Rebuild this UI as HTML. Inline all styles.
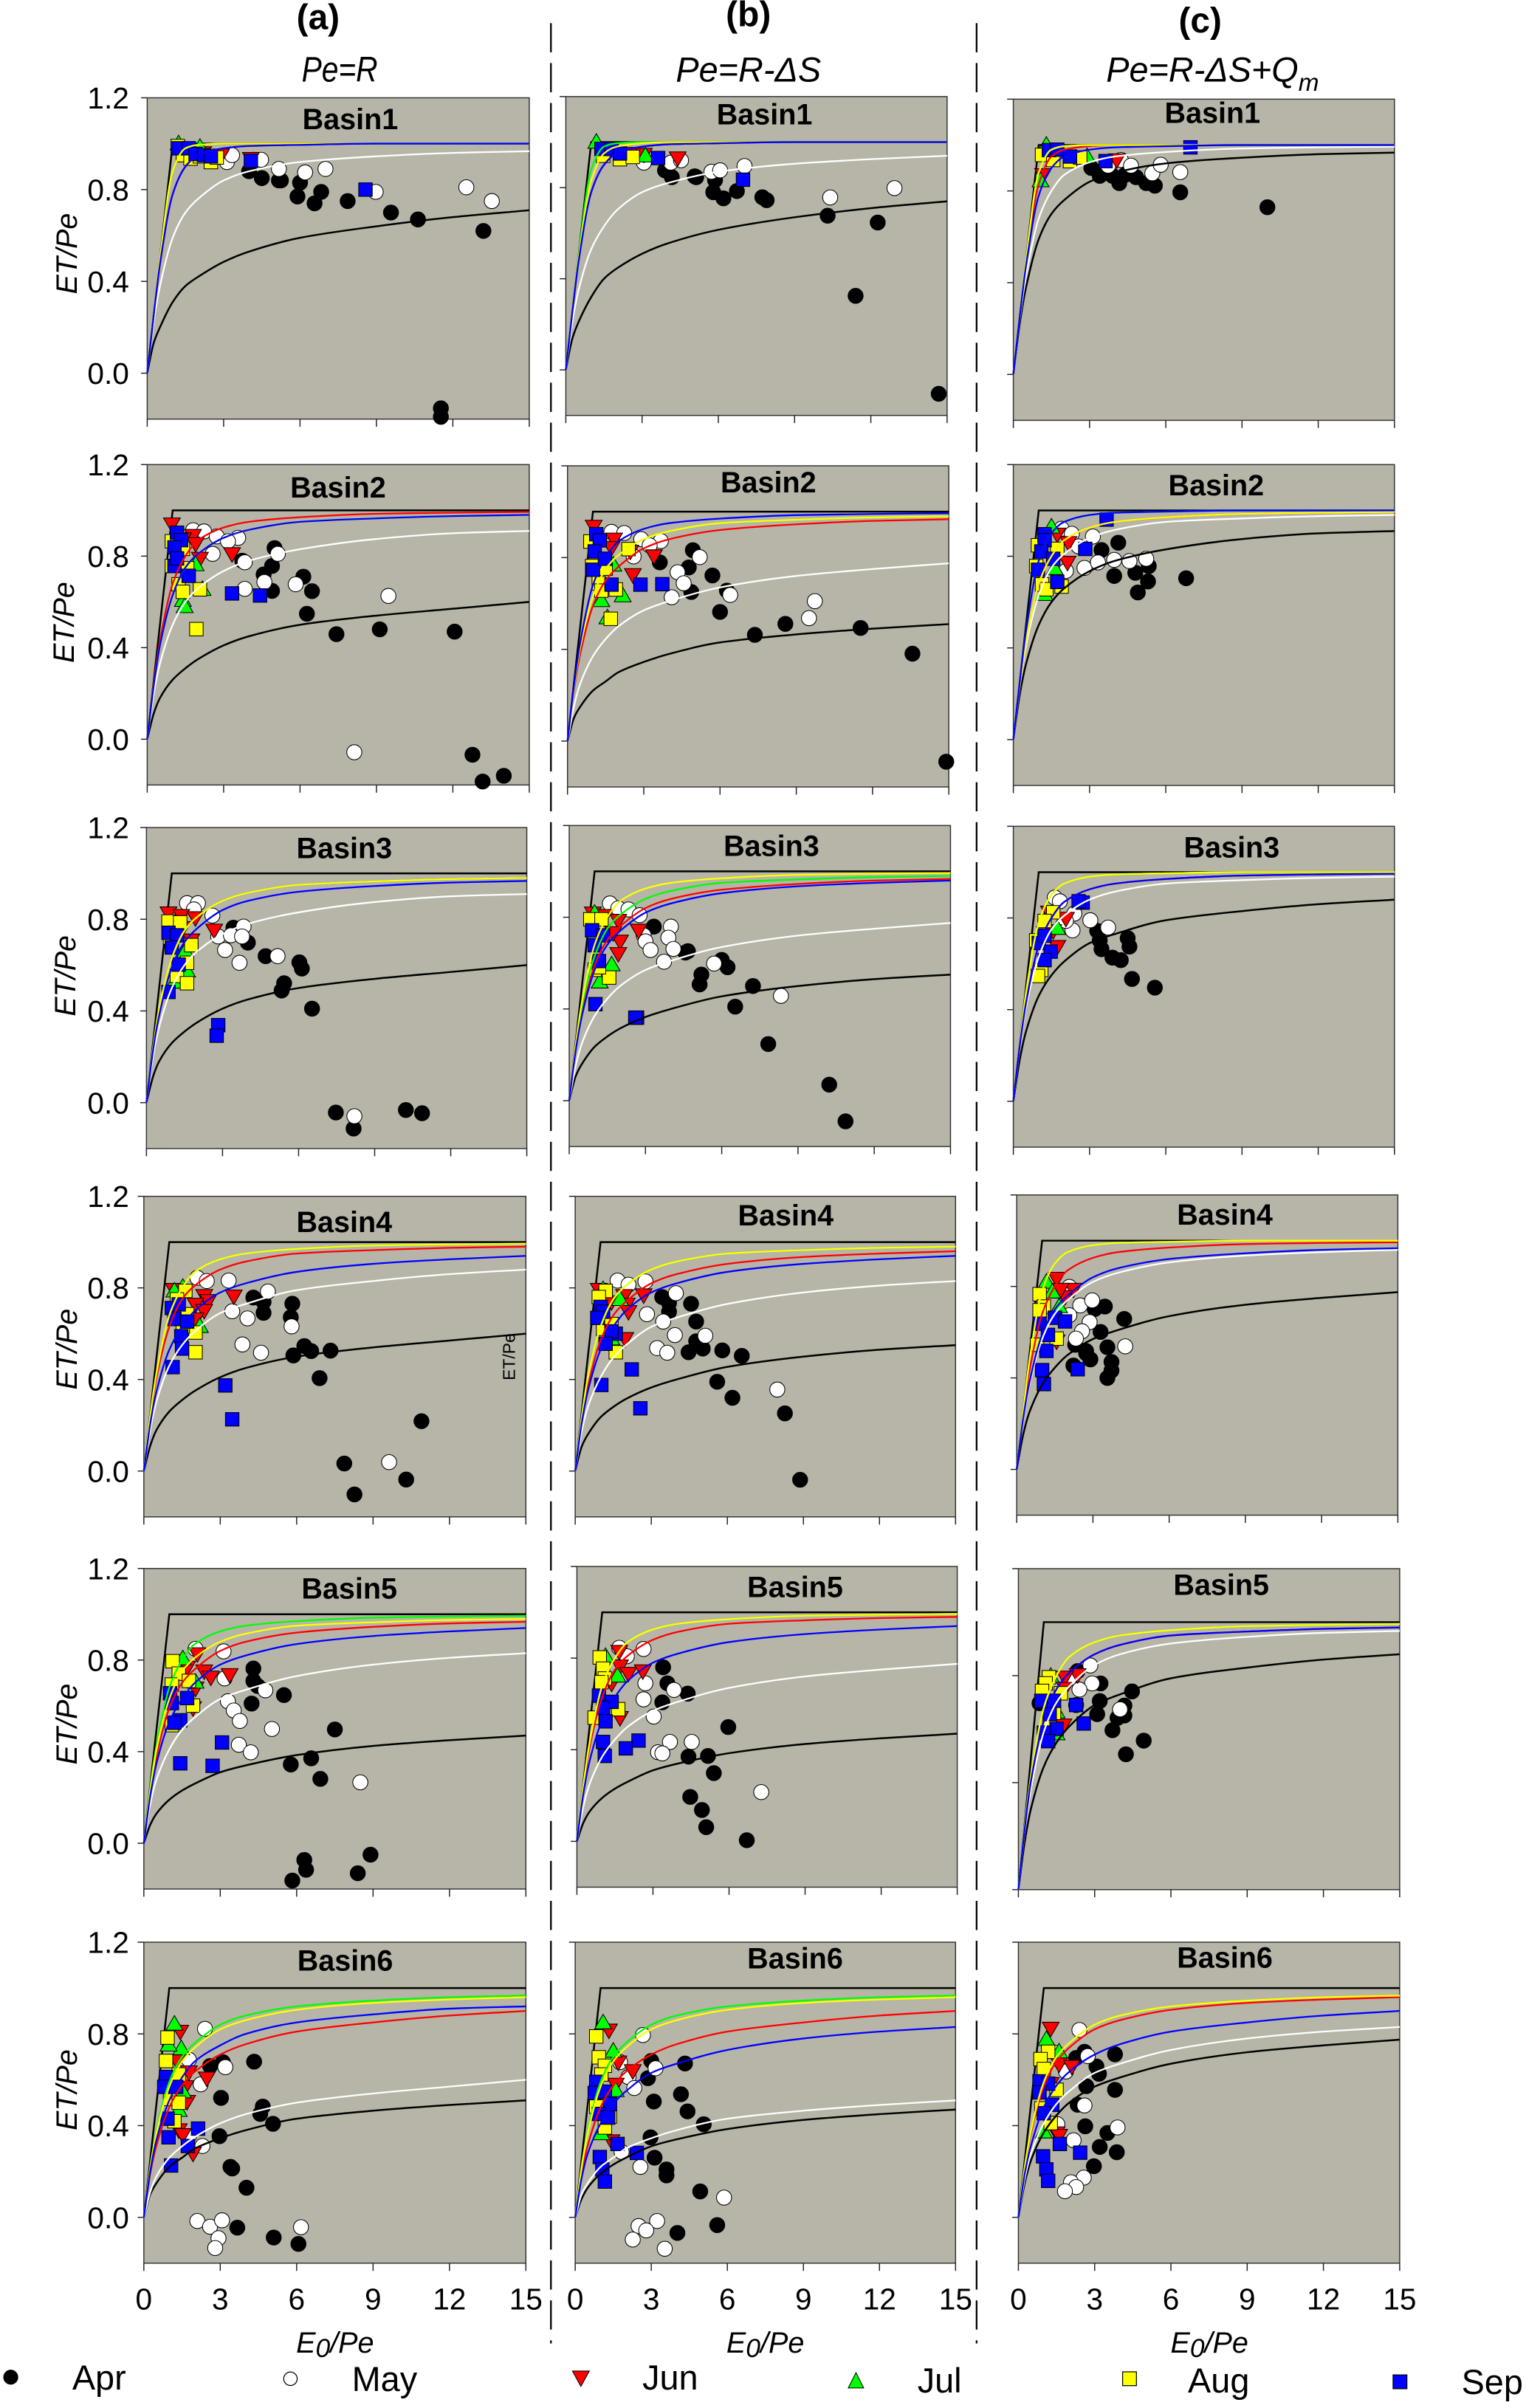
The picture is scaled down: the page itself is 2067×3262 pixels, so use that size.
<!DOCTYPE html>
<html>
<head>
<meta charset="utf-8">
<title>ET/Pe versus E0/Pe by basin and month</title>
<style>
html,body{margin:0;padding:0;background:#fff;}
svg{display:block;}
text{font-family:"Liberation Sans",sans-serif;fill:#000;}
</style>
</head>
<body>
<svg id="chart" xmlns="http://www.w3.org/2000/svg" width="2067" height="3262" viewBox="0 0 993 1567">
<rect x="0" y="0" width="993" height="1567" fill="#fff"/>
<text x="207" y="19" font-size="23" font-weight="bold" text-anchor="middle">(a)</text>
<text x="487" y="17" font-size="23" font-weight="bold" text-anchor="middle">(b)</text>
<text x="781" y="21" font-size="23" font-weight="bold" text-anchor="middle">(c)</text>
<text transform="translate(221,53) scale(0.85,1)" font-size="23" font-style="italic" text-anchor="middle">Pe=R</text>
<text x="487" y="53" font-size="22.5" font-style="italic" text-anchor="middle">Pe=R-ΔS</text>
<text x="789" y="53" font-size="22.5" font-style="italic" text-anchor="middle">Pe=R-ΔS+Q<tspan font-size="16" dy="6">m</tspan></text>
<line x1="358.5" y1="15" x2="358.5" y2="1525" stroke="#000" stroke-width="1.1" stroke-dasharray="19 7"/>
<line x1="635.5" y1="15" x2="635.5" y2="1525" stroke="#000" stroke-width="1.1" stroke-dasharray="19 7"/>
<g id="panels"></g>
<text transform="translate(335,883) rotate(-90)" font-size="11" text-anchor="middle" fill="#222">ET/Pe</text>
<text x="218" y="1531" font-size="19" font-style="italic" text-anchor="middle">E<tspan font-size="17" dy="3">0</tspan><tspan dy="-3">/Pe</tspan></text>
<text x="498" y="1531" font-size="19" font-style="italic" text-anchor="middle">E<tspan font-size="17" dy="3">0</tspan><tspan dy="-3">/Pe</tspan></text>
<text x="787" y="1531" font-size="19" font-style="italic" text-anchor="middle">E<tspan font-size="17" dy="3">0</tspan><tspan dy="-3">/Pe</tspan></text>
<g id="legend">
<circle cx="7" cy="1547" r="4.6" fill="#000" stroke="#000" stroke-width="0.5"/>
<text x="47" y="1555" font-size="22.5">Apr</text>
<circle cx="189" cy="1548" r="4.4" fill="#fff" stroke="#000" stroke-width="0.6"/>
<text x="229" y="1556" font-size="22.5">May</text>
<polygon points="372.5,1543 383.5,1543 378,1553" fill="#f00" stroke="#000" stroke-width="0.5"/>
<text x="418" y="1555" font-size="22.5">Jun</text>
<polygon points="552,1554 562,1554 557,1544" fill="#0f0" stroke="#000" stroke-width="0.5"/>
<text x="597" y="1557" font-size="22.5">Jul</text>
<rect x="730.5" y="1543.5" width="9" height="9" fill="#ff0" stroke="#000" stroke-width="0.6"/>
<text x="773" y="1557" font-size="22.5">Aug</text>
<rect x="906.5" y="1545.5" width="9" height="9" fill="#00f" stroke="#000" stroke-width="0.6"/>
<text x="951" y="1558" font-size="22.5">Sep</text>
</g>
</svg>
<script>
// ---------- chart data ----------
const months = ["apr","may","jun","jul","aug","sep"];
const basins = ["Basin1","Basin2","Basin3","Basin4","Basin5","Basin6"];
const xTicks = [0,3,6,9,12,15];
const yTicks = [0,0.4,0.8,1.2];
const yTickLabels = ["0.0","0.4","0.8","1.2"];

// E0/Pe sample positions shared by the fitted curves
const curveE0 = [0,0.25,0.5,1,1.5,2,3,4,6,9,12,15];
const curve47 = [0,.08,.13,.19,.23,.26,.31,.34,.385,.425,.45,.47];
const curve51 = [0,.10,.15,.22,.26,.30,.345,.38,.43,.465,.49,.51];
const curve55 = [0,.105,.16,.235,.28,.315,.365,.40,.455,.50,.53,.55];
const curve60 = [0,.11,.18,.26,.31,.35,.41,.45,.50,.54,.57,.60];
const curve74 = [0,.135,.21,.32,.40,.445,.51,.555,.615,.67,.71,.74];
const curve72 = [0,.13,.20,.31,.38,.42,.485,.53,.59,.64,.68,.71];
const curve77 = [0,.15,.25,.37,.445,.50,.57,.61,.67,.72,.75,.775];
const curve83 = [0,.17,.28,.41,.495,.55,.63,.67,.73,.78,.81,.83];
const curve88 = [0,.18,.305,.46,.55,.61,.69,.73,.79,.83,.86,.88];
const curve89 = [0,.19,.315,.48,.575,.635,.71,.755,.81,.85,.88,.90];
const curve91 = [0,.195,.33,.50,.60,.66,.735,.78,.83,.875,.90,.91];
const curve92 = [0,.20,.34,.51,.61,.68,.75,.80,.85,.885,.91,.92];
const curve94 = [0,.205,.35,.53,.63,.70,.78,.82,.87,.905,.925,.94];
const curve96 = [0,.215,.37,.57,.68,.74,.82,.86,.905,.935,.95,.96];
const curve97 = [0,.22,.38,.59,.70,.76,.84,.88,.92,.945,.96,.967];
const curve98 = [0,.23,.41,.63,.75,.81,.88,.915,.95,.965,.975,.98];
const curve99 = [0,.24,.43,.68,.80,.87,.925,.95,.97,.985,.99,.993];
const curve100 = [0,.248,.475,.78,.90,.95,.98,.99,.995,1,1,1];
const curve100c = [0,.25,.49,.83,.95,.98,.995,1,1,1,1,1];
const curve100b = [0,.25,.50,.88,.98,.995,1,1,1,1,1,1];

// upper-limit line
const limitE0 = [0,1,15];
const limitRatio = [0,1,1];

// monthly observations: [E0/Pe, ET/Pe]
const a1Apr=[[4,.88],[4.5,.85],[5.17,.84],[5.25,.84],[6,.83],[5.9,.77],[6.83,.79],[6.57,.74],[7.87,.75],[9.57,.70],[10.63,.67],[13.2,.62],[11.53,-.153],[11.53,-.19]];
const a1May=[[3.13,.92],[3.33,.95],[4.17,.93],[4.47,.93],[5.17,.89],[6.2,.875],[7,.89],[8.97,.79],[12.53,.81],[13.53,.75]];
const a1Jun=[[1.9,.97],[2.2,.96],[2.9,.95],[4.07,.935]];
const a1Jul=[[1.23,1],[2.07,.985]];
const a1Aug=[[1.2,.99],[1.4,.95],[1.7,.935],[2.07,.945],[2.5,.92],[2.73,.94]];
const a1Sep=[[1.23,.98],[1.63,.98],[1.9,.955],[2.23,.95],[2.5,.945],[4.07,.925],[8.57,.80]];

const b1Apr=[[3.9,.876],[4.17,.846],[5.07,.85],[5.13,.846],[5.87,.833],[5.8,.78],[6.2,.753],[6.73,.785],[7.73,.758],[7.9,.745],[10.3,.677],[12.27,.647],[11.4,.325],[14.67,-.105]];
const b1May=[[3.07,.91],[4.13,.91],[4.53,.92],[5.73,.87],[6.07,.876],[7.03,.895],[10.4,.757],[12.93,.798]];
const b1Jun=[[2.47,.95],[3.07,.946],[4.4,.93]];
const b1Jul=[[1.2,1],[3.13,.94]];
const b1Aug=[[1.47,.94],[2.13,.925],[2.63,.935]];
const b1Sep=[[1.4,.97],[1.8,.97],[2.13,.95],[3.63,.93],[6.97,.835]];

const c1Apr=[[3.07,.90],[3.4,.866],[3.9,.866],[4.17,.834],[4.4,.87],[4.83,.86],[5.23,.834],[5.57,.823],[6.57,.794],[10,.729]];
const c1May=[[3.73,.91],[4.23,.935],[4.63,.91],[5.47,.877],[5.8,.914],[6.57,.882]];
const c1Jun=[[1.17,.87],[4.07,.935]];
const c1Jul=[[1.07,.845],[1.3,1],[2.9,.95]];
const c1Aug=[[1.13,.957],[1.57,.935],[2.23,.93],[2.63,.946]];
const c1Sep=[[1.4,.978],[1.73,.98],[2.23,.95],[3.63,.93],[6.97,.99]];

const a2Apr=[[5,.835],[3.73,.78],[4.9,.757],[4.57,.72],[6.13,.71],[4.9,.648],[6.47,.647],[6.27,.548],[7.43,.459],[9.13,.48],[12.07,.47],[12.77,-.068],[14,-.16],[13.17,-.185]];
const a2May=[[1.8,.913],[2.23,.908],[2.73,.886],[3.57,.88],[3.17,.865],[2.57,.81],[3.83,.773],[5.13,.81],[4.6,.687],[3.83,.657],[5.83,.677],[9.47,.626],[8.13,-.057]];
const a2Jun=[[.97,.94],[1.8,.89],[1.9,.854],[3.33,.81],[2.07,.79],[1.4,.875]];
const a2Jul=[[1.4,.607],[1.47,.58],[1.9,.763],[2.17,.655]];
const a2Aug=[[.97,.865],[.97,.757],[1.4,.832],[1.57,.747],[1.23,.677],[1.4,.644],[2.07,.655],[1.93,.481]];
const a2Sep=[[1.17,.902],[1.33,.87],[1.07,.838],[1.07,.757],[1.63,.714],[3.33,.637],[4.43,.628],[1.17,.79]];

const b2Apr=[[4.93,.832],[3.63,.779],[4.77,.757],[5.7,.722],[6.27,.656],[4.87,.65],[6,.563],[7.37,.463],[8.57,.511],[11.53,.493],[13.57,.381],[14.9,-.09]];
const b2May=[[1.73,.912],[2.23,.907],[2.9,.88],[3.67,.872],[3.23,.853],[2.6,.805],[5.2,.802],[4.33,.736],[4.57,.688],[4.1,.627],[6.4,.637],[9.73,.61],[9.5,.536]];
const b2Jun=[[1.03,.936],[1.83,.88],[1.73,.843],[2.47,.827],[3.4,.807],[2.57,.725]];
const b2Jul=[[1.33,.613],[2.17,.634],[1.8,.768],[1.57,.538]];
const b2Aug=[[.9,.87],[.97,.763],[1.5,.752],[1.23,.688],[1.33,.656],[1.9,.661],[1.7,.533],[2.4,.837]];
const b2Sep=[[1.13,.902],[1.27,.875],[1.07,.827],[1,.747],[1.47,.795],[1.73,.682],[2.87,.682],[3.73,.684]];

const c2Apr=[[4.13,.859],[3.47,.827],[4.8,.728],[5.33,.757],[3.97,.714],[5.3,.69],[6.8,.704],[4.9,.642]];
const c2May=[[1.9,.92],[2.3,.898],[3.13,.886],[2.8,.749],[3.33,.773],[3.97,.784],[4.57,.779],[5.23,.789],[2.07,.736],[2.57,.843]];
const c2Jun=[[2.17,.859],[2.13,.773],[1.73,.896]];
const c2Jul=[[1.23,.634],[1.5,.928],[1.63,.747]];
const c2Aug=[[.97,.848],[1.13,.677],[1.3,.656],[1.9,.668],[1.73,.832],[.9,.757]];
const c2Sep=[[1.23,.896],[1.23,.87],[1.1,.821],[.97,.741],[1.57,.789],[1.73,.688],[2.83,.832],[3.67,.96]];

const a3Apr=[[3.43,.763],[4,.698],[4.7,.639],[6.03,.612],[6.13,.585],[5.43,.521],[5.33,.489],[6.53,.41],[7.47,-.043],[8.17,-.113],[10.23,-.032],[10.87,-.046]];
const a3May=[[1.6,.87],[2.03,.87],[1.87,.843],[2.6,.816],[3.83,.768],[2.83,.725],[3.33,.73],[3.77,.725],[3.1,.666],[5.17,.639],[3.67,.61],[8.2,-.059]];
const a3Jun=[[.87,.827],[1.37,.816],[1.93,.806],[2.67,.752],[1.77,.709],[1.43,.763],[1.1,.784]];
const a3Jul=[[1.6,.575],[1.1,.526],[1.53,.66]];
const a3Aug=[[.87,.79],[1.33,.786],[.93,.72],[1.6,.61],[1.2,.553],[1.6,.521],[1.77,.687]];
const a3Sep=[[.87,.741],[1.2,.73],[1,.677],[1.27,.602],[.87,.483],[2.83,.338],[2.77,.292]];

const b3Apr=[[3.33,.759],[4.67,.652],[4.57,.646],[6.23,.582],[6,.614],[5.2,.55],[5.13,.507],[7.23,.5],[6.53,.41],[7.83,.247],[10.23,.07],[10.87,-.09]];
const b3May=[[1.6,.86],[1.93,.839],[2.33,.834],[2.77,.809],[4,.759],[2.93,.721],[3.9,.711],[3,.695],[4.1,.662],[3.2,.657],[3.73,.606],[5.7,.598],[8.33,.457]];
const b3Jun=[[.93,.818],[1.4,.807],[1.93,.786],[2.73,.743],[2,.695],[1.93,.641],[1.73,.732]];
const b3Jul=[[1.67,.593],[1.2,.518],[1,.818]];
const b3Aug=[[.83,.791],[1.27,.791],[1,.571],[1.57,.537],[1.17,.582]];
const b3Sep=[[.9,.743],[1.33,.721],[1,.678],[1.17,.609],[1.03,.421],[2.67,.362],[2.6,.362]];

const c3Apr=[[3.3,.744],[3.4,.702],[3.47,.664],[4.5,.712],[4.57,.675],[3.9,.627],[4.23,.616],[4.67,.534],[5.57,.496]];
const c3May=[[1.63,.889],[1.83,.873],[2.4,.819],[3.03,.79],[2.33,.746],[3.73,.758],[2.07,.787]];
const c3Jun=[[1.4,.825],[2.07,.798],[1.73,.675],[1.57,.744]];
const c3Jul=[[1.23,.787],[1.73,.755]];
const c3Aug=[[1.57,.825],[1.23,.787],[.9,.702],[1.1,.573],[.97,.547]];
const c3Sep=[[2.73,.867],[1,.691],[1.23,.723],[1.47,.653],[1.23,.616],[2.57,.873]];

const a4Apr=[[4.3,.758],[4.7,.739],[4.7,.691],[5.83,.731],[5.77,.672],[6.3,.546],[6.57,.524],[7.33,.526],[5.87,.505],[6.9,.406],[10.9,.218],[7.87,.033],[8.27,-.102],[10.3,-.037]];
const a4May=[[2.1,.844],[2.47,.83],[3.33,.832],[4.87,.784],[3.47,.698],[4.07,.667],[5.8,.632],[3.87,.553],[4.6,.517],[9.63,.039]];
const a4Jun=[[1.17,.793],[2.37,.766],[2.53,.744],[3.53,.764],[2.03,.728],[2.37,.701],[2.03,.664]];
const a4Jul=[[1.53,.803],[2.2,.632],[1.2,.787]];
const a4Aug=[[1.63,.787],[1.3,.75],[2.03,.605],[2.03,.519],[1.53,.632],[1.7,.685]];
const a4Sep=[[1.1,.712],[1.37,.728],[1.2,.664],[1.7,.653],[1.47,.589],[1.5,.535],[1.13,.454],[3.2,.374],[3.47,.226]];

const b4Apr=[[3.43,.76],[3.7,.734],[3.7,.696],[4.57,.731],[4.77,.653],[4.47,.519],[4.77,.567],[5.03,.535],[5.8,.527],[6.57,.503],[5.6,.39],[6.2,.32],[8.27,.252],[8.87,-.038]];
const b4May=[[1.67,.832],[2.1,.814],[2.77,.828],[3.97,.777],[2.83,.685],[3.47,.653],[3.93,.594],[5.13,.591],[3.23,.537],[3.63,.517],[7.97,.356]];
const b4Jun=[[.93,.793],[1.93,.766],[2.03,.728],[2.7,.769],[2.1,.696],[1.97,.578],[1.43,.739]];
const b4Jul=[[1.43,.578],[1.77,.75],[1.1,.793]];
const b4Aug=[[1.2,.787],[.93,.76],[1.1,.621],[1.6,.519],[1.43,.642]];
const b4Sep=[[1,.717],[1.1,.696],[.87,.669],[1.6,.6],[1.43,.61],[1.2,.556],[2.23,.444],[1.03,.376],[2.57,.274]];

const c4Apr=[[3.07,.701],[3.47,.712],[4.23,.658],[3.3,.601],[2.3,.545],[2.73,.518],[3.57,.534],[2.9,.481],[3.73,.47],[2.23,.454],[3.73,.432],[3.57,.4],[2.73,.508]];
const c4May=[[2.07,.798],[2.5,.717],[2.97,.739],[2.07,.674],[2.87,.644],[2.57,.604],[2.33,.572],[4.27,.538]];
const c4Jun=[[1.57,.835],[2.23,.787],[1.9,.755],[1.73,.787],[1.57,.561]];
const c4Jul=[[1.17,.819],[1.4,.776],[1.67,.712]];
const c4Aug=[[.9,.766],[1.07,.712],[.9,.696],[1.57,.572],[.8,.545]];
const c4Sep=[[1.5,.663],[1.9,.647],[.9,.637],[1.23,.588],[1.17,.518],[1,.434],[2.4,.438],[1.07,.373]];

const a5Apr=[[4.3,.763],[4.3,.709],[4.47,.687],[5.5,.647],[4.23,.61],[7.5,.497],[6.57,.371],[5.77,.344],[6.93,.281],[6.3,-.073],[6.37,-.116],[8.9,-.05],[8.4,-.131],[5.83,-.163]];
const a5May=[[2.03,.849],[3.13,.838],[3.17,.72],[4.77,.668],[3.3,.62],[3.53,.58],[3.77,.534],[5.03,.499],[3.73,.43],[4.2,.397],[8.5,.266]];
const a5Jun=[[2.1,.827],[2.37,.752],[2.63,.725],[3.37,.736],[1.7,.768],[2.03,.677],[1.93,.591]];
const a5Jul=[[1.53,.806],[2.03,.704],[1.37,.741]];
const a5Aug=[[1.13,.795],[1.37,.741],[1.1,.693],[1.77,.709],[1.93,.601],[1.1,.516]];
const a5Sep=[[1.03,.655],[1.7,.634],[1.1,.612],[1.43,.537],[1.2,.526],[3.07,.44],[1.43,.349],[2.7,.338]];

const b5Apr=[[3.4,.76],[3.57,.69],[4.37,.645],[3.37,.607],[5.97,.499],[4.4,.37],[5.17,.373],[5.4,.298],[4.47,.194],[4.93,.137],[5.1,.062],[6.7,.005]];
const b5May=[[1.67,.845],[2.63,.84],[1.97,.808],[2.7,.69],[3.83,.661],[2.63,.62],[3.03,.545],[3.67,.434],[4.53,.434],[3.2,.389],[3.37,.384],[7.27,.215]];
const b5Jun=[[1.67,.829],[1.7,.765],[2.03,.733],[2.6,.744],[1.7,.54],[1.37,.69]];
const b5Jul=[[1.13,.808],[1.6,.722]];
const b5Aug=[[.9,.803],[1.03,.754],[1.1,.711],[.97,.695],[1.63,.577],[.7,.54]];
const b5Sep=[[.87,.636],[1.37,.609],[1.03,.583],[1.13,.524],[1.03,.434],[2.43,.44],[1.93,.406],[1.1,.373]];

const c5Apr=[[3.23,.771],[4.47,.741],[3.2,.705],[3.1,.656],[4.17,.688],[4.17,.651],[3.9,.642],[3.7,.596],[4.93,.557],[4.23,.506],[2.33,.817],[.83,.697]];
const c5May=[[2.83,.838],[2.9,.771],[2.4,.748],[2.27,.69],[4,.674],[2,.789]];
const c5Jun=[[2.33,.803],[1.83,.794],[1.83,.752],[1.77,.615]];
const c5Jul=[[1.27,.798],[1.5,.665],[1.5,.583]];
const c5Aug=[[1.2,.794],[1.07,.771],[.93,.743],[1.67,.734],[1.4,.661],[1.23,.606]];
const c5Sep=[[.9,.706],[1.4,.706],[2.27,.69],[1.23,.656],[2.57,.621],[1.5,.601],[1,.587],[1.17,.555]];

const a6Apr=[[2.6,.66],[3.1,.677],[4.33,.679],[3.03,.521],[4.67,.483],[4.57,.451],[5.07,.408],[2.97,.354],[3.4,.22],[3.47,.213],[4.03,.129],[3.67,-.045],[5.1,-.088],[6.07,-.116]];
const a6May=[[2.4,.822],[1.77,.687],[3.2,.655],[2.23,.58],[1.77,.354],[2.3,.311],[2.1,-.016],[2.6,-.041],[3.07,-.013],[2.93,-.091],[2.8,-.134],[6.17,-.043]];
const a6Jun=[[1.43,.811],[1.3,.682],[1.77,.634],[2.47,.607],[1.63,.569],[1.7,.505],[1.37,.381],[1.53,.36],[1.93,.279]];
const a6Jul=[[1.2,.843],[1.47,.736],[.97,.752],[1.53,.548],[1.37,.467]];
const a6Aug=[[.93,.784],[.87,.682],[1.37,.623],[1.03,.516],[1.37,.5],[1.2,.419]];
const a6Sep=[[.87,.612],[.8,.569],[1.27,.569],[.93,.43],[.97,.349],[2.13,.387],[1.73,.311],[1.07,.226]];

const b6Apr=[[3,.682],[4.33,.671],[2.87,.607],[4.17,.537],[3.1,.505],[4.43,.462],[5.07,.406],[2.97,.349],[3.13,.26],[3.6,.209],[3.6,.183],[4.93,.113],[4.03,-.068],[5.6,-.034]];
const b6May=[[2.67,.795],[1.77,.677],[3.17,.65],[2.1,.612],[2.33,.564],[1.83,.285],[2.57,.22],[5.87,.086],[3.23,-.016],[2.5,-.038],[2.8,-.057],[2.27,-.097],[3.53,-.137]];
const b6Jun=[[1.33,.816],[2.27,.639],[1.7,.677],[1.43,.526],[1.43,.333],[1.6,.58]];
const b6Jul=[[1.1,.849],[1.5,.725],[1.6,.553],[1.03,.365]];
const b6Aug=[[.83,.789],[.93,.698],[1.17,.661],[1.03,.623],[.83,.483],[1.37,.44],[1.17,.392]];
const b6Sep=[[.83,.591],[.77,.542],[1.17,.548],[1.37,.494],[.93,.451],[1.3,.435],[1.67,.32],[.97,.263],[2.43,.281],[1.07,.209],[1.17,.156]];

const c6Apr=[[2.6,.722],[2.27,.695],[3.8,.711],[3.07,.658],[3.17,.626],[2.67,.572],[3.8,.556],[2.33,.491],[2.63,.397],[3.5,.368],[3.2,.307],[3.87,.284],[2.97,.223]];
const c6May=[[2.4,.817],[1.5,.717],[2.73,.703],[1.87,.636],[2.6,.488],[3.9,.392],[1.53,.406],[2.17,.336],[2.57,.173],[2.07,.153],[2.27,.132],[1.83,.114]];
const c6Jun=[[1.27,.824],[1.6,.668],[2.1,.658],[1.27,.583],[1.5,.368],[1.6,.357]];
const c6Jul=[[1.1,.776],[1.6,.722],[1,.373]];
const c6Aug=[[1.17,.722],[.87,.69],[1,.647],[1.5,.556],[.9,.475],[1.27,.411]];
const c6Sep=[[.83,.593],[1.17,.583],[.83,.545],[1.33,.491],[1,.454],[1.63,.32],[2.43,.282],[.97,.266],[1.1,.209],[1.17,.159]];

// ---------- series look-up per panel (apr, may, jun, jul, aug, sep) ----------
const panelPoints = {
  a1:[a1Apr,a1May,a1Jun,a1Jul,a1Aug,a1Sep], b1:[b1Apr,b1May,b1Jun,b1Jul,b1Aug,b1Sep], c1:[c1Apr,c1May,c1Jun,c1Jul,c1Aug,c1Sep],
  a2:[a2Apr,a2May,a2Jun,a2Jul,a2Aug,a2Sep], b2:[b2Apr,b2May,b2Jun,b2Jul,b2Aug,b2Sep], c2:[c2Apr,c2May,c2Jun,c2Jul,c2Aug,c2Sep],
  a3:[a3Apr,a3May,a3Jun,a3Jul,a3Aug,a3Sep], b3:[b3Apr,b3May,b3Jun,b3Jul,b3Aug,b3Sep], c3:[c3Apr,c3May,c3Jun,c3Jul,c3Aug,c3Sep],
  a4:[a4Apr,a4May,a4Jun,a4Jul,a4Aug,a4Sep], b4:[b4Apr,b4May,b4Jun,b4Jul,b4Aug,b4Sep], c4:[c4Apr,c4May,c4Jun,c4Jul,c4Aug,c4Sep],
  a5:[a5Apr,a5May,a5Jun,a5Jul,a5Aug,a5Sep], b5:[b5Apr,b5May,b5Jun,b5Jul,b5Aug,b5Sep], c5:[c5Apr,c5May,c5Jun,c5Jul,c5Aug,c5Sep],
  a6:[a6Apr,a6May,a6Jun,a6Jul,a6Aug,a6Sep], b6:[b6Apr,b6May,b6Jun,b6Jul,b6Aug,b6Sep], c6:[c6Apr,c6May,c6Jun,c6Jul,c6Aug,c6Sep]
};
const panelCurves = {
  a1:[curve72,curve97,curve100,curve100b,curve100b,curve100], b1:[curve74,curve94,curve100,curve100b,curve100c,curve100], c1:[curve97,curve99,curve100c,curve100b,curve100b,curve100],
  a2:[curve60,curve91,curve99,curve98,curve98,curve98], b2:[curve51,curve77,curve97,curve98,curve98,curve99], c2:[curve91,curve98,curve99,curve100,curve99,curve100],
  a3:[curve60,curve91,curve98,curve98,curve98,curve97], b3:[curve55,curve77,curve97,curve98,curve99,curve96], c3:[curve88,curve98,curve99,curve100,curve100,curve99],
  a4:[curve60,curve88,curve98,curve99,curve99,curve94], b4:[curve55,curve83,curve96,curve98,curve98,curve94], c4:[curve77,curve96,curve99,curve100,curve100,curve97],
  a5:[curve47,curve83,curve97,curve99,curve98,curve94], b5:[curve47,curve77,curve98,curve99,curve99,curve94], c5:[curve88,curve97,curve98,curve99,curve99,curve98],
  a6:[curve51,curve60,curve89,curve97,curve96,curve92], b6:[curve47,curve51,curve89,curve97,curve96,curve83], c6:[curve77,curve83,curve96,curve97,curve97,curve89]
};

// ---------- layout & style (not data) ----------
const layout = [
 {id:"a1",b:0,l:95.8,r:344.4,t:63.6,bt:272.7,tx:227.9,ty:77.3,ymin:-.2},
 {id:"b1",b:0,l:368.2,r:616.3,t:62.8,bt:270.3,tx:497.5,ty:74.1,ymin:-.2},
 {id:"c1",b:0,l:659.4,r:907.4,t:64.5,bt:273.5,tx:789,ty:73.2,ymin:-.2},
 {id:"a2",b:1,l:95.8,r:344.4,t:302.3,bt:510.8,tx:220,ty:317,ymin:-.2},
 {id:"b2",b:1,l:369.3,r:617.4,t:303.1,bt:512.1,tx:500,ty:313.5,ymin:-.2},
 {id:"c2",b:1,l:659.4,r:907.4,t:302.3,bt:511.1,tx:791.4,ty:315.5,ymin:-.2},
 {id:"a3",b:2,l:95.3,r:342.8,t:538.5,bt:747.4,tx:224,ty:551.6,ymin:-.2},
 {id:"b3",b:2,l:370.4,r:618.5,t:537.2,bt:746.1,tx:502,ty:550.3,ymin:-.2},
 {id:"c3",b:2,l:659.4,r:907.4,t:537.7,bt:746.5,tx:801.5,ty:551.1,ymin:-.2},
 {id:"a4",b:3,l:93.6,r:342.2,t:778.5,bt:987.1,tx:224,ty:795,ymin:-.2},
 {id:"b4",b:3,l:374.3,r:621.8,t:778.5,bt:987.1,tx:511.3,ty:790.7,ymin:-.2},
 {id:"c4",b:3,l:661.6,r:909.6,t:777.6,bt:986,tx:797,ty:790.2,ymin:-.2},
 {id:"a5",b:4,l:93.6,r:342.2,t:1020.7,bt:1229.3,tx:227.3,ty:1033.6,ymin:-.2},
 {id:"b5",b:4,l:375.4,r:622.9,t:1019.4,bt:1228.1,tx:517.4,ty:1032.5,ymin:-.2},
 {id:"c5",b:4,l:662.7,r:910.8,t:1020.8,bt:1229.7,tx:794.7,ty:1031.2,ymin:0},
 {id:"a6",b:5,l:93.6,r:342.2,t:1263.9,bt:1472.8,tx:224.6,ty:1275.7,ymin:-.2},
 {id:"b6",b:5,l:374.3,r:621.8,t:1263.9,bt:1472.8,tx:517.4,ty:1274.1,ymin:-.2},
 {id:"c6",b:5,l:662.7,r:910.8,t:1263.9,bt:1472.8,tx:797,ty:1273.8,ymin:-.2}
];
const yTitleSpots = {a1:[44,165],a2:[42,405],a3:[43,635],a4:[44,878],a5:[44,1122],a6:[44,1360]};
const curveColors = ["#000","#fff","#f00","#0f0","#ff0","#00f"];
const SVGNS = "http://www.w3.org/2000/svg";
const root = document.getElementById("panels");

function make(tag, parent){
  const el = document.createElementNS(SVGNS, tag);
  parent.appendChild(el);
  return el;
}
function smoothPath(px, py){
  const n = px.length, d = [], m = [];
  for (let i = 0; i < n-1; i++) d.push((py[i+1]-py[i])/(px[i+1]-px[i]));
  m.push(d[0]);
  for (let i = 1; i < n-1; i++) m.push(d[i-1]*d[i] <= 0 ? 0 : 2*d[i-1]*d[i]/(d[i-1]+d[i]));
  m.push(d[n-2]);
  let s = "M" + px[0].toFixed(2) + "," + py[0].toFixed(2);
  for (let i = 0; i < n-1; i++) {
    const h = (px[i+1]-px[i])/3;
    s += "C" + (px[i]+h).toFixed(2) + "," + (py[i]+m[i]*h).toFixed(2) + " " + (px[i+1]-h).toFixed(2) + "," + (py[i+1]-m[i+1]*h).toFixed(2) + " " + px[i+1].toFixed(2) + "," + py[i+1].toFixed(2);
  }
  return s;
}

layout.forEach(function(p){
  const xScale = function(v){ return p.l + (v/15)*(p.r-p.l); };
  const yScale = function(v){ return p.bt - ((v-p.ymin)/(1.2-p.ymin))*(p.bt-p.t); };
  const g = make("g", root);
  
  

  const bg = make("rect", g);
  
  
  bg.setAttribute("x", p.l);
  bg.setAttribute("y", p.t);
  bg.setAttribute("width", p.r-p.l);
  bg.setAttribute("height", p.bt-p.t);
  bg.setAttribute("fill", "#b6b5a8");
  bg.setAttribute("stroke", "#333");
  bg.setAttribute("stroke-width", "0.7");

  // x ticks
  xTicks.forEach(function(t){
    const tk = make("line", g);
    
    
    tk.setAttribute("x1", xScale(t));
    tk.setAttribute("x2", xScale(t));
    tk.setAttribute("y1", p.bt);
    tk.setAttribute("y2", p.bt+5);
    tk.setAttribute("stroke", "#222");
    tk.setAttribute("stroke-width", "0.7");
    if (p.b === 5) {
      const lb = make("text", g);
      
      
      lb.setAttribute("x", xScale(t));
      lb.setAttribute("y", p.bt+30);
      lb.setAttribute("font-size", "19.5");
      lb.setAttribute("text-anchor", "middle");
      lb.textContent = t;
    }
  });
  // y ticks
  yTicks.forEach(function(t, i){
    const tk = make("line", g);
    
    
    tk.setAttribute("x1", p.l-4);
    tk.setAttribute("x2", p.l);
    tk.setAttribute("y1", yScale(t));
    tk.setAttribute("y2", yScale(t));
    tk.setAttribute("stroke", "#222");
    tk.setAttribute("stroke-width", "0.7");
    if (p.id.charAt(0) === "a") {
      const lb = make("text", g);
      
      
      lb.setAttribute("x", 84);
      lb.setAttribute("y", yScale(t)+7);
      lb.setAttribute("font-size", "19.5");
      lb.setAttribute("text-anchor", "end");
      lb.textContent = yTickLabels[i];
    }
  });
  if (yTitleSpots[p.id]) {
    const yt = make("text", g);
    
    
    yt.setAttribute("transform", "translate(" + (yTitleSpots[p.id][0]+6) + "," + yTitleSpots[p.id][1] + ") rotate(-90)");
    yt.setAttribute("font-size", "19");
    yt.setAttribute("font-style", "italic");
    yt.setAttribute("text-anchor", "middle");
    yt.textContent = "ET/Pe";
  }

  const title = make("text", g);
  
  
  title.setAttribute("x", p.tx);
  title.setAttribute("y", p.ty+6.8);
  title.setAttribute("font-size", "19");
  title.setAttribute("font-weight", "bold");
  title.setAttribute("text-anchor", "middle");
  title.textContent = basins[p.b];

  // limit line under points
  const limit = make("polyline", g);
  
  
  limit.setAttribute("points", limitE0.map(function(v,i){ return xScale(v).toFixed(2) + "," + yScale(limitRatio[i]).toFixed(2); }).join(" "));
  limit.setAttribute("fill", "none");
  limit.setAttribute("stroke", "#000");
  limit.setAttribute("stroke-width", "1.2");

  // points
  panelPoints[p.id].forEach(function(series, mi){
    const month = months[mi];
    series.forEach(function(pt, k){
      const cx = xScale(pt[0]), cy = yScale(pt[1]);
      let mk;
      if (mi === 0 || mi === 1) {
        mk = make("circle", g);
        mk.setAttribute("cx", cx.toFixed(2));
        mk.setAttribute("cy", cy.toFixed(2));
        mk.setAttribute("r", "4.9");
        mk.setAttribute("fill", mi === 0 ? "#000" : "#fff");
      } else if (mi === 2) {
        mk = make("polygon", g);
        mk.setAttribute("points", (cx-5.5).toFixed(2)+","+(cy-4).toFixed(2)+" "+(cx+5.5).toFixed(2)+","+(cy-4).toFixed(2)+" "+cx.toFixed(2)+","+(cy+5.5).toFixed(2));
        mk.setAttribute("fill", "#f00");
      } else if (mi === 3) {
        mk = make("polygon", g);
        mk.setAttribute("points", (cx-5.5).toFixed(2)+","+(cy+4).toFixed(2)+" "+(cx+5.5).toFixed(2)+","+(cy+4).toFixed(2)+" "+cx.toFixed(2)+","+(cy-5.5).toFixed(2));
        mk.setAttribute("fill", "#0f0");
      } else {
        mk = make("rect", g);
        mk.setAttribute("x", (cx-4.4).toFixed(2));
        mk.setAttribute("y", (cy-4.4).toFixed(2));
        mk.setAttribute("width", "8.8");
        mk.setAttribute("height", "8.8");
        mk.setAttribute("fill", mi === 4 ? "#ff0" : "#00f");
      }
      mk.setAttribute("stroke", "#000");
      mk.setAttribute("stroke-width", "0.5");
      
      
    });
  });

  // fitted curves above points
  panelCurves[p.id].forEach(function(vals, mi){
    const path = make("path", g);
    
    
    path.setAttribute("d", smoothPath(curveE0.map(xScale), vals.map(yScale)));
    path.setAttribute("fill", "none");
    path.setAttribute("stroke", curveColors[mi]);
    path.setAttribute("stroke-width", mi === 0 ? "1.2" : "1.1");
  });
});
</script>
</body>
</html>
